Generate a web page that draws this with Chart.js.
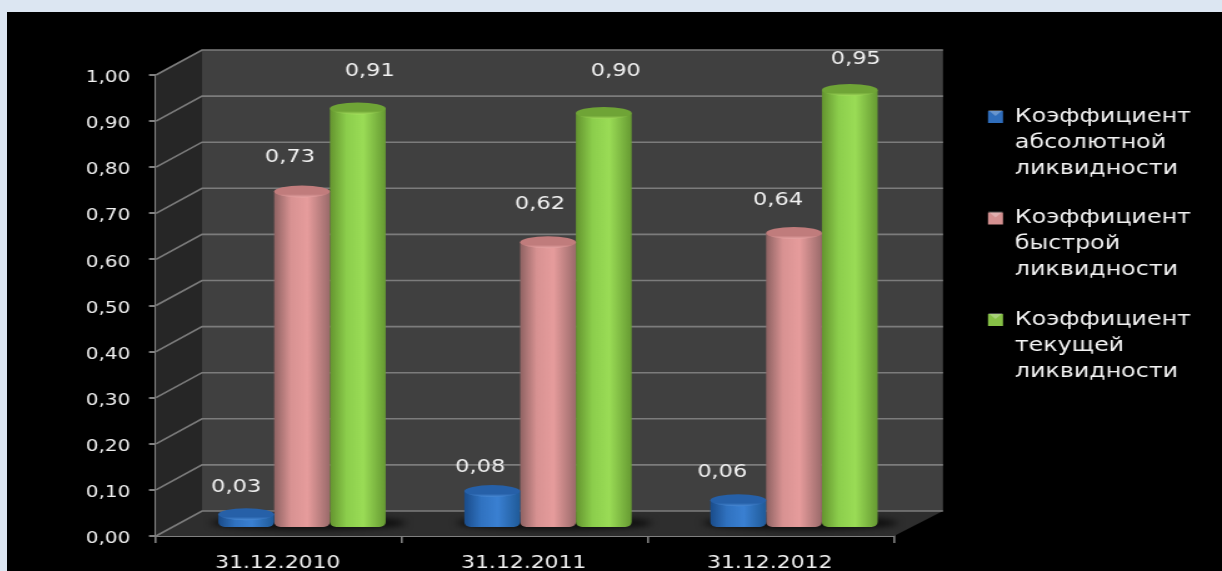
<!DOCTYPE html>
<html><head><meta charset="utf-8">
<style>
html,body{margin:0;padding:0;width:1222px;height:571px;overflow:hidden;background:#dce6f2}
#wrap{position:absolute;left:7px;top:12px;width:1215px;height:559px;background:#000;overflow:hidden}
canvas{display:block;transform:scaleX(1.25);transform-origin:0 0}
</style>
<script src="https://cdn.jsdelivr.net/npm/chart.js@4/dist/chart.umd.min.js"></script>
</head><body><div id="wrap"><canvas id="c" width="972" height="559"></canvas></div>
<script>
const categories = ["31.12.2010","31.12.2011","31.12.2012"];
const absoluteLiquidity = [0.03,0.08,0.06];
const quickLiquidity = [0.73,0.62,0.64];
const currentLiquidity = [0.91,0.90,0.95];
const legendLines = [
  ["Коэффициент","абсолютной","ликвидности"],
  ["Коэффициент","быстрой","ликвидности"],
  ["Коэффициент","текущей","ликвидности"]
];
const seriesValues = [absoluteLiquidity, quickLiquidity, currentLiquidity];
// styles
const barStops = [
  ["#1a4c8a","#3072c0","#3a80d2","#1f5a98"],
  ["#8e6262","#d89292","#e69c9c","#9a6a6a"],
  ["#64942f","#8cce4c","#9adc56","#669a32"]
];
const capColors = [["#2660a8","#4a8cd8"],["#c07c7c","#e8a6a6"],["#6fa436","#a6e05e"]];
const legendColors = ["#2f6dbb","#d49090","#86c046"];
const S = 1.25; // the whole picture is stretched sideways by this factor
const labelShiftX = [[-10,-12,-16],[-12,-8,-16],[12,12,6]];
const labelShiftY = [[-27,-24,-28],[-34,-38,-33],[-37.5,-42,-31]];
const DEPTH_X = 46/S, DEPTH_Y = 25, RIGHT_X = 49/S, BAR_DX = 23/S, BAR_DY = 8, CAP_RY = 6;
const AREA_R = 887/S, LEGEND_W = 120, LEGEND_PAD = 23.5, LEGEND_LEFT = 981/S-LEGEND_PAD, LEGEND_TOP = 72;
const FONT = '"DejaVu Sans"';

function fmt(v){ return v.toFixed(2).replace('.',','); }

function barGradient(c){
  const x = c.chart.scales.x;
  const stops = barStops[c.datasetIndex];
  if(!x || !isFinite(x.left) || x.width<=0) return stops[1];
  const catW = x.width/categories.length;
  const w = catW*0.68/3;
  const cx = x.getPixelForValue(c.dataIndex) + (c.datasetIndex-1)*w;
  const g = c.chart.ctx.createLinearGradient(cx-w/2,0,cx+w/2,0);
  g.addColorStop(0,stops[0]); g.addColorStop(.3,stops[1]);
  g.addColorStop(.6,stops[2]); g.addColorStop(1,stops[3]);
  return g;
}

const scene = {
  id:'scene',
  afterLayout(chart){
    const l = chart.legend, dy = LEGEND_TOP - l.top;
    l.left = LEGEND_LEFT; l.right = 972; l.top+=dy; l.bottom+=dy;
  },
  beforeDatasetsDraw(chart){
    const ctx = chart.ctx, {left:L,right:R,top:T,bottom:B} = chart.chartArea, y = chart.scales.y, x = chart.scales.x;
    ctx.save();
    ctx.fillStyle = '#262626';
    ctx.beginPath(); ctx.moveTo(L,B); ctx.lineTo(L,T); ctx.lineTo(L+DEPTH_X,T-DEPTH_Y); ctx.lineTo(L+DEPTH_X,B-DEPTH_Y); ctx.closePath(); ctx.fill();
    ctx.fillStyle = '#404040';
    ctx.fillRect(L+DEPTH_X,T-DEPTH_Y,R+RIGHT_X-L-DEPTH_X,B-T);
    ctx.fillStyle = '#2e2e2e';
    ctx.beginPath(); ctx.moveTo(L,B); ctx.lineTo(L+DEPTH_X,B-DEPTH_Y); ctx.lineTo(R+RIGHT_X,B-DEPTH_Y); ctx.lineTo(R,B); ctx.closePath(); ctx.fill();
    ctx.strokeStyle = '#7c7c7c'; ctx.lineWidth = 1.6;
    y.ticks.forEach(t=>{
      const py = y.getPixelForValue(t.value);
      ctx.beginPath(); ctx.moveTo(L,py); ctx.lineTo(L+DEPTH_X,py-DEPTH_Y); ctx.lineTo(R+RIGHT_X,py-DEPTH_Y); ctx.stroke();
    });
    ctx.filter = 'blur(3px)'; ctx.fillStyle = 'rgba(0,0,0,.7)';
    categories.forEach((c,i)=>{
      ctx.beginPath(); ctx.ellipse(x.getPixelForValue(i)+BAR_DX+5,B-BAR_DY-5,78,7,0,0,Math.PI*2); ctx.fill();
    });
    ctx.restore();
  },
  beforeDatasetDraw(chart){ chart.ctx.save(); chart.ctx.translate(BAR_DX,-BAR_DY); },
  afterDatasetDraw(chart,args){
    const ctx = chart.ctx, i = args.index, cols = capColors[i];
    args.meta.data.forEach(b=>{
      const g = ctx.createLinearGradient(0,b.y-CAP_RY,0,b.y+CAP_RY);
      g.addColorStop(0,cols[0]); g.addColorStop(.72,cols[0]); g.addColorStop(1,cols[1]);
      ctx.fillStyle = g;
      ctx.beginPath(); ctx.ellipse(b.x,b.y,b.width/2,CAP_RY,0,0,Math.PI*2); ctx.fill();
    });
    ctx.restore();
  },
  afterDatasetsDraw(chart){
    const ctx = chart.ctx;
    ctx.save();
    ctx.font = '18px '+FONT; ctx.fillStyle = '#f2f2f2'; ctx.textAlign='center'; ctx.textBaseline='middle';
    seriesValues.forEach((vals,s)=>{
      const bars = chart.getDatasetMeta(s).data;
      vals.forEach((v,i)=>{
        ctx.fillText(fmt(v), bars[i].x+BAR_DX+labelShiftX[s][i]/S, bars[i].y-BAR_DY+labelShiftY[s][i]);
      });
    });
    ctx.restore();
  },
  afterDraw(chart){
    const ctx = chart.ctx, l = chart.legend;
    ctx.save(); ctx.fillStyle='rgba(255,255,255,.28)';
    legendLines.forEach((t,i)=>{
      const x = l.left+LEGEND_PAD, y = l.top+LEGEND_PAD+2.5+i*(78+LEGEND_PAD), w = 15/S;
      ctx.beginPath(); ctx.moveTo(x,y); ctx.lineTo(x+w,y); ctx.lineTo(x+w/2,y+6); ctx.closePath(); ctx.fill();
    });
    ctx.restore();
  }
};

new Chart(document.getElementById('c'),{
  type:'bar',
  plugins:[scene],
  data:{
    labels:categories,
    datasets:seriesValues.map((vals,i)=>({
      label:legendLines[i].join(' '),
      data:vals,
      clip:false,
      backgroundColor:barGradient,
      borderWidth:0,
      borderSkipped:false,
      borderRadius:{topLeft:0,topRight:0,bottomLeft:5,bottomRight:5},
      categoryPercentage:0.68,
      barPercentage:1
    }))
  },
  options:{
    responsive:false,
    animation:false,
    layout:{padding:{top:63,left:0,bottom:0,right:972-AREA_R-LEGEND_W}},
    plugins:{
      tooltip:{enabled:false},
      title:{display:false},
      legend:{
        position:'right',
        align:'start',
        maxWidth:LEGEND_W,
        labels:{
          color:'#f4f4f4',
          font:{family:FONT,size:19,lineHeight:26/19},
          boxWidth:15/S,boxHeight:12,
          padding:LEGEND_PAD,
          generateLabels:()=>legendLines.map((t,i)=>({text:t,fillStyle:legendColors[i],fontColor:'#f4f4f4',strokeStyle:'rgba(0,0,0,0)',lineWidth:0,datasetIndex:i,hidden:false}))
        }
      }
    },
    scales:{
      x:{
        offset:true,
        border:{color:'#808080',width:2},
        grid:{drawOnChartArea:false,drawTicks:true,tickLength:7,color:'#808080',lineWidth:1.6,offset:true},
        ticks:{color:'#f2f2f2',font:{family:FONT,size:17.5},padding:10,maxRotation:0,labelOffset:-1},
        afterFit(s){s.height=35;}
      },
      y:{
        min:0,max:1,
        border:{color:'#808080',width:1.6},
        grid:{drawOnChartArea:false,drawTicks:true,tickLength:5.6,color:'#808080',lineWidth:2},
        ticks:{stepSize:0.1,color:'#f2f2f2',font:{family:FONT,size:16},padding:15,labelOffset:3,callback:v=>fmt(v)},
        afterFit(s){s.width=149/S;}
      }
    }
  }
});
</script></body></html>
